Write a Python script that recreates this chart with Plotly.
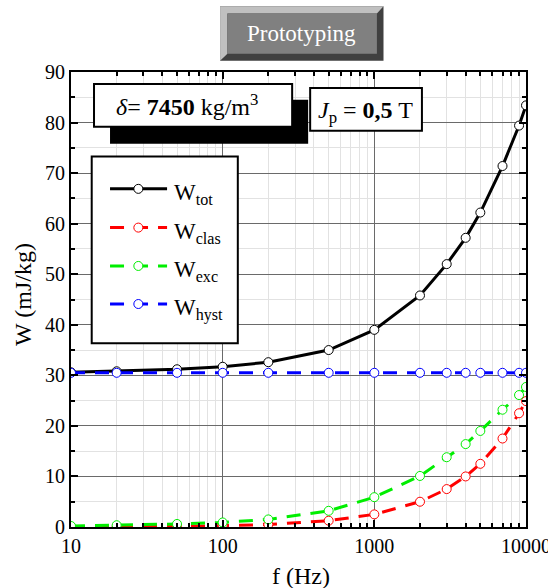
import plotly.graph_objects as go

# ---------------- data ----------------
freq = [10, 20, 50, 100, 200, 500, 1000, 2000, 3000, 4000, 5000, 7000, 9000, 10000]
w_tot = [30.6, 30.8, 31.2, 31.7, 32.6, 35.0, 39.0, 45.8, 52.0, 57.2, 62.2, 71.4, 79.4, 83.4]
w_clas = [0.03, 0.05, 0.13, 0.25, 0.5, 1.25, 2.5, 5.0, 7.5, 10.0, 12.5, 17.5, 22.5, 24.9]
w_exc = [0.2, 0.35, 0.6, 0.9, 1.5, 3.2, 5.9, 10.1, 13.8, 16.4, 19.0, 23.2, 26.1, 27.7]
w_hyst = [30.5, 30.5, 30.5, 30.5, 30.5, 30.5, 30.5, 30.5, 30.5, 30.5, 30.5, 30.5, 30.5, 30.5]

x_ticks = [10, 100, 1000, 10000]
x_ticktext = ["10", "100", "1000", "10000"]
y_ticks = [0, 10, 20, 30, 40, 50, 60, 70, 80, 90]

series = [
    ("tot", w_tot, "black", "solid"),
    ("clas", w_clas, "#ff0000", "14px,10px"),
    ("exc", w_exc, "#00ee00", "14px,10px"),
    ("hyst", w_hyst, "#0000ff", "14px,10px"),
]

FONT = "Liberation Serif"
W, H = 548, 588
L, R, T, B = 71, 525.7, 72.3, 526.7


def px(x):
    return (x - L) / (R - L)


def py(y):
    return (B - y) / (B - T)


fig = go.Figure()
for name, vals, col, dash in series:
    fig.add_trace(go.Scatter(
        x=freq, y=vals, mode="lines+markers", name=name,
        line=dict(color=col, width=3, dash=dash),
        marker=dict(symbol="circle", size=9, color="white",
                    line=dict(color=col, width=1)),
        showlegend=False,
    ))

minor_x = [m * 10 ** e for e in range(1, 4) for m in range(2, 10)]

fig.update_xaxes(
    type="log", range=[1, 4], tickmode="array", tickvals=x_ticks, ticktext=x_ticktext,
    ticks="inside", ticklen=7, tickwidth=1.5, tickcolor="black",
    showline=True, linecolor="black", linewidth=2, mirror="allticks",
    showgrid=True, gridcolor="#6a6a6a", gridwidth=1, zeroline=False,
    tickfont=dict(family=FONT, size=20, color="black"), ticklabeloverflow="allow",
    minor=dict(tickmode="array", tickvals=minor_x, ticks="inside", ticklen=4,
               tickwidth=1.5, tickcolor="black", showgrid=True,
               gridcolor="#e2e2e2", gridwidth=1),
)
fig.update_yaxes(
    range=[0, 90], tickmode="array", tickvals=y_ticks,
    ticks="inside", ticklen=7, tickwidth=1.5, tickcolor="black",
    showline=True, linecolor="black", linewidth=2, mirror="allticks",
    showgrid=True, gridcolor="#6a6a6a", gridwidth=1, zeroline=False,
    tickfont=dict(family=FONT, size=20, color="black"), ticklabeloverflow="allow",
    minor=dict(dtick=5, ticks="inside", ticklen=4, tickwidth=1.5, tickcolor="black",
               showgrid=True, gridcolor="#e2e2e2", gridwidth=1),
)

shapes = []
annotations = []


def ann(text, x, y, size, color="black", xanchor="center", angle=0):
    annotations.append(dict(text=text, xref="paper", yref="paper",
                            x=px(x), y=py(y), xanchor=xanchor, yanchor="middle",
                            textangle=angle, showarrow=False,
                            font=dict(family=FONT, size=size, color=color)))


# title button
shapes.append(dict(type="rect", xref="paper", yref="paper",
                   x0=px(220), x1=px(383.3), y0=py(61), y1=py(6.7),
                   fillcolor="#404040", line=dict(width=0), layer="above"))
p = [(220, 6.7), (383.3, 6.7), (376.7, 14), (227.3, 14), (227.3, 54), (220, 61)]
path = "M " + " L ".join(f"{px(a):.5f},{py(b):.5f}" for a, b in p) + " Z"
shapes.append(dict(type="path", xref="paper", yref="paper", path=path,
                   fillcolor="#c0c0c0", line=dict(width=0), layer="above"))
shapes.append(dict(type="rect", xref="paper", yref="paper",
                   x0=px(227.3), x1=px(376.7), y0=py(54), y1=py(14),
                   fillcolor="#808080", line=dict(width=0), layer="above"))
ann("Prototyping", 301, 34, 23, color="white")

# density box with shadow
shapes.append(dict(type="rect", xref="paper", yref="paper",
                   x0=px(110), x1=px(308), y0=py(144), y1=py(100),
                   fillcolor="black", line=dict(width=0), layer="above"))
shapes.append(dict(type="rect", xref="paper", yref="paper",
                   x0=px(94), x1=px(292), y0=py(127), y1=py(84.3),
                   fillcolor="white", line=dict(color="black", width=2), layer="above"))
ann("<i>δ</i>= <b>7450</b> kg/m<sup>3</sup>", 187, 105, 24)
# Jp box
shapes.append(dict(type="rect", xref="paper", yref="paper",
                   x0=px(310), x1=px(421.7), y0=py(131), y1=py(88.3),
                   fillcolor="white", line=dict(color="black", width=2), layer="above"))
ann("<i>J</i><sub>p</sub> = <b>0,5</b> T", 365, 112, 24)

# legend box
shapes.append(dict(type="rect", xref="paper", yref="paper",
                   x0=px(91.7), x1=px(237.7), y0=py(343.3), y1=py(156.7),
                   fillcolor="white", line=dict(color="black", width=2), layer="above"))
ys = [189, 227.7, 266, 304]
for (name, vals, col, dash), yy in zip(series, ys):
    shapes.append(dict(type="line", xref="paper", yref="paper",
                       x0=px(110), x1=px(167), y0=py(yy), y1=py(yy),
                       line=dict(color=col, width=3, dash=dash), layer="above"))
    shapes.append(dict(type="circle", xref="paper", yref="paper",
                       x0=px(138.3 - 4.5), x1=px(138.3 + 4.5),
                       y0=py(yy + 4.5), y1=py(yy - 4.5),
                       fillcolor="white", line=dict(color=col, width=1), layer="above"))
    ann(f"W<sub>{name}</sub>", 172, yy + 5, 23, xanchor="left")

# axis titles
ann("W (mJ/kg)", 23, 294, 24, angle=-90)
ann("f (Hz)", 301, 576, 24)

fig.update_layout(
    width=W, height=H,
    margin=dict(l=L, r=W - R, t=T, b=H - B, autoexpand=False),
    paper_bgcolor="white", plot_bgcolor="white",
    shapes=shapes, annotations=annotations, showlegend=False,
)

fig.write_html("out.html", config={"displayModeBar": False},
               post_script="document.body.style.margin='0';document.body.style.padding='0';")
